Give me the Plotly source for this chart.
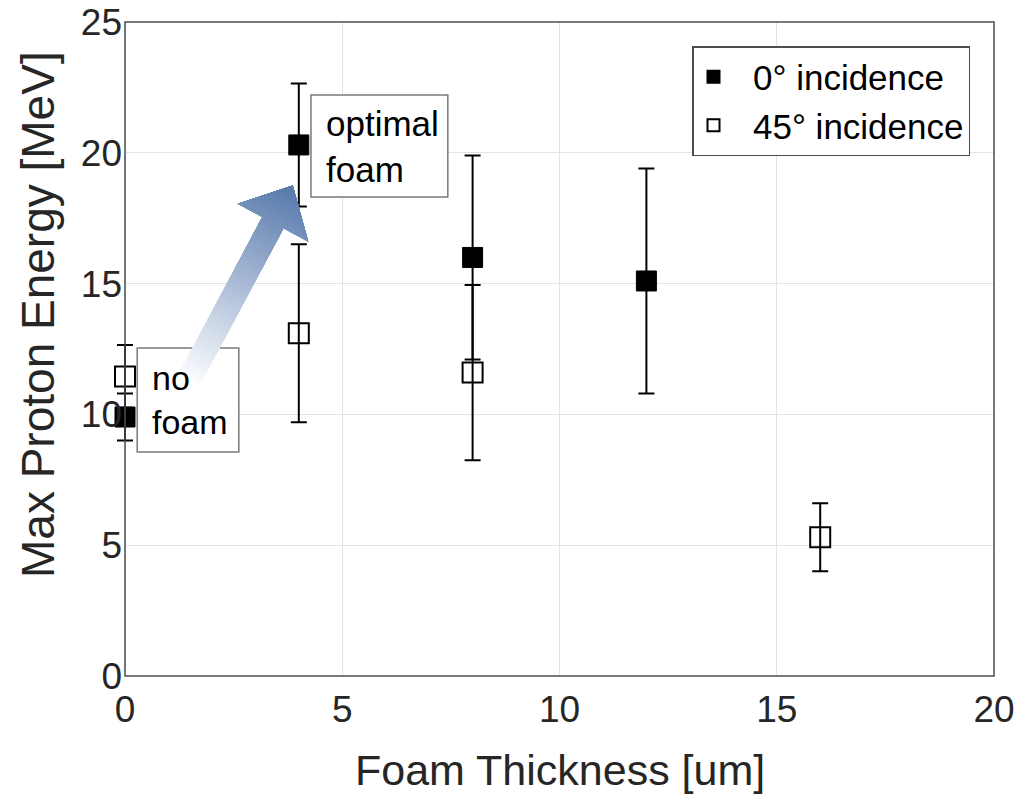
import plotly.graph_objects as go

# Measured maximum proton energy vs. foam thickness
thick_0deg = [0, 4, 8, 12]
energy_0deg = [9.9, 20.3, 16.0, 15.1]
err_0deg = [0.9, 2.35, 3.9, 4.3]

thick_45deg = [0, 4, 8, 16]
energy_45deg = [11.45, 13.1, 11.6, 5.3]
err_45deg = [1.2, 3.4, 3.35, 1.3]

series_names = ["0° incidence", "45° incidence"]
x_ticks = [0, 5, 10, 15, 20]
y_ticks = [0, 5, 10, 15, 20, 25]

# Figure geometry (pixels); the frame spans x 0..20, y 0..25
FIG_W, FIG_H = 1020, 795
BOX_L, BOX_R, BOX_T, BOX_B = 125, 994, 22, 676
X_LIM = (0, 20)
Y_LIM = (0, 25)
# the drawing area reaches a little left of the frame so that the
# error-bar caps at x = 0 are not clipped
PAD_L = 14
PX_PER_X = (BOX_R - BOX_L) / (X_LIM[1] - X_LIM[0])
PX_PER_Y = (BOX_B - BOX_T) / (Y_LIM[1] - Y_LIM[0])
X_RANGE = (X_LIM[0] - PAD_L / PX_PER_X, X_LIM[1])
M_L, M_R, M_T, M_B = BOX_L - PAD_L, FIG_W - BOX_R, BOX_T, FIG_H - BOX_B
PLOT_W = FIG_W - M_L - M_R
PLOT_H = FIG_H - M_T - M_B

FONT = "Liberation Sans, Arial, Helvetica, sans-serif"
INK = "#262626"


def to_px(x, y):
    return BOX_L + (x - X_LIM[0]) * PX_PER_X, BOX_B - (y - Y_LIM[0]) * PX_PER_Y


def to_data(px, py):
    return X_LIM[0] + (px - BOX_L) / PX_PER_X, Y_LIM[0] + (BOX_B - py) / PX_PER_Y


def paper_x(px):
    return (px - M_L) / PLOT_W


def paper_y(py):
    return (FIG_H - M_B - py) / PLOT_H


NBSP = "\u00a0"

fig = go.Figure()

fig.add_trace(go.Scatter(
    x=thick_0deg, y=energy_0deg, mode="markers",
    name=NBSP * 2 + series_names[0],
    cliponaxis=False,
    marker=dict(symbol="square", size=20, color="black",
                line=dict(color="black", width=1)),
    error_y=dict(type="data", array=err_0deg, visible=True,
                 color="black", thickness=2, width=8),
))
fig.add_trace(go.Scatter(
    x=thick_45deg, y=energy_45deg, mode="markers",
    name=NBSP * 2 + series_names[1],
    cliponaxis=False,
    marker=dict(symbol="square-open", size=20, color="black",
                line=dict(color="black", width=2)),
    error_y=dict(type="data", array=err_45deg, visible=True,
                 color="black", thickness=2, width=8),
))

shapes = [
    # hide grid-line stubs left of the frame
    dict(type="rect", xref="x", yref="y", x0=X_RANGE[0], x1=X_LIM[0],
         y0=Y_LIM[0], y1=Y_LIM[1], fillcolor="white", line=dict(width=0),
         layer="between"),
    # axes frame
    dict(type="rect", xref="paper", yref="paper",
         x0=paper_x(BOX_L), x1=paper_x(BOX_R),
         y0=paper_y(BOX_B), y1=paper_y(BOX_T), fillcolor="rgba(0,0,0,0)",
         line=dict(color="#4d4d4d", width=1.5), layer="above"),
]

# Text boxes (white fill so grid lines are hidden behind them)
NO_FOAM_BOX = (0.28, 8.56, 2.62, 12.54)
OPTIMAL_BOX = (4.28, 18.31, 7.43, 22.21)
for bx0, by0, bx1, by1 in (NO_FOAM_BOX, OPTIMAL_BOX):
    shapes.append(dict(type="rect", xref="x", yref="y",
                       x0=bx0, y0=by0, x1=bx1, y1=by1,
                       fillcolor="white", line=dict(color="#7a7a7a", width=1.5),
                       layer="above"))

# Gradient arrow from "no foam" to "optimal foam":
# each layer runs from a point on the axis to the tip, drawn tail-first,
# so later (darker) layers cover the front part without seams.
ARROW_TAIL = (1.5, 11.4)
ARROW_TIP = (3.86, 18.75)
SHAFT_HALF = 12.0
HEAD_HALF = 40.0
HEAD_LEN = 42.0
C_TAIL = (248, 250, 253)
C_HEAD = (84, 118, 170)

tx, ty = to_px(*ARROW_TAIL)
hx, hy = to_px(*ARROW_TIP)
dx, dy = hx - tx, hy - ty
length = (dx ** 2 + dy ** 2) ** 0.5
ux, uy = dx / length, dy / length
nx, ny = -uy, ux
head_start = length - HEAD_LEN


def pt(s, w):
    return (tx + ux * s + nx * w, ty + uy * s + ny * w)


n_layers = 48
for i in range(n_layers):
    s0 = (length - 6) * i / n_layers
    if s0 < head_start:
        outline = [pt(s0, SHAFT_HALF), pt(head_start, SHAFT_HALF),
                   pt(head_start, HEAD_HALF), pt(length, 0),
                   pt(head_start, -HEAD_HALF), pt(head_start, -SHAFT_HALF),
                   pt(s0, -SHAFT_HALF)]
    else:
        w = HEAD_HALF * (length - s0) / HEAD_LEN
        outline = [pt(s0, w), pt(length, 0), pt(s0, -w)]
    t = s0 / length
    col = tuple(round(a + (b - a) * t) for a, b in zip(C_TAIL, C_HEAD))
    dpts = [to_data(px, py) for px, py in outline]
    path = "M " + " L ".join(f"{x:.5f},{y:.5f}" for x, y in dpts) + " Z"
    shapes.append(dict(type="path", xref="x", yref="y", path=path,
                       fillcolor=f"rgb{col}", line=dict(width=0),
                       layer="above"))

annotations = [
    dict(x=0.58, y=10.55, xref="x", yref="y", text="no<br>foam",
         showarrow=False, xanchor="left", yanchor="middle", align="left",
         font=dict(family=FONT, size=34, color="black")),
    dict(x=4.58, y=20.26, xref="x", yref="y", text="optimal<br>foam",
         showarrow=False, xanchor="left", yanchor="middle", align="left",
         font=dict(family=FONT, size=35, color="black")),
    dict(x=paper_x((BOX_L + BOX_R) / 2), y=paper_y(770),
         xref="paper", yref="paper",
         text="Foam Thickness [um]", showarrow=False,
         xanchor="center", yanchor="middle",
         font=dict(family=FONT, size=43, color=INK)),
    dict(x=paper_x(38), y=paper_y(315),
         xref="paper", yref="paper", text="Max Proton Energy [MeV]",
         showarrow=False, textangle=-90, xanchor="center", yanchor="middle",
         font=dict(family=FONT, size=46, color=INK)),
]

axis_common = dict(
    showgrid=True, gridcolor="#e3e3e3", gridwidth=1,
    showline=False, zeroline=False, ticks="", automargin=False,
    tickfont=dict(family=FONT, size=37, color=INK),
)

fig.update_layout(
    width=FIG_W, height=FIG_H,
    margin=dict(l=M_L, r=M_R, t=M_T, b=M_B, pad=0, autoexpand=False),
    paper_bgcolor="white", plot_bgcolor="white",
    font=dict(family=FONT, color=INK),
    xaxis=dict(range=list(X_RANGE), tickvals=x_ticks,
               ticklabelstandoff=8, **axis_common),
    yaxis=dict(range=list(Y_LIM), tickvals=y_ticks,
               ticklabelstandoff=2 - PAD_L, **axis_common),
    legend=dict(x=paper_x(970), y=paper_y(46),
                xanchor="right", yanchor="top",
                bgcolor="white", bordercolor="#4d4d4d", borderwidth=1.5,
                font=dict(family=FONT, size=35, color="black"),
                itemsizing="constant", tracegroupgap=0),
    shapes=shapes,
    annotations=annotations,
    showlegend=True,
)

fig.write_html("out.html")
